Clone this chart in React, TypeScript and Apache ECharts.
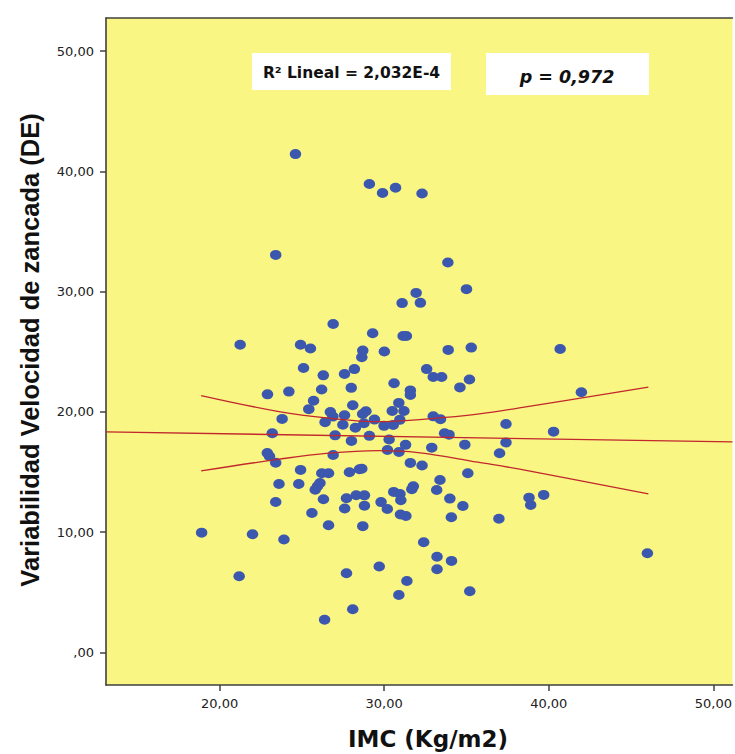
import React, { useEffect, useRef } from "react";
import * as echarts from "echarts";

// IMC (Kg/m2)
const imc = [
  24.61, 29.10, 29.90, 30.69, 32.30, 23.41, 33.87, 35.00, 31.94, 31.09,
  32.20, 26.90, 29.30, 31.15, 31.35, 21.25, 24.92, 25.52, 28.70, 28.64,
  30.01, 33.89, 35.29, 25.10, 28.19, 27.59, 26.30, 32.58, 32.98, 33.49,
  35.18, 34.60, 30.60, 28.00, 26.20, 22.91, 24.21, 31.59, 31.59, 25.71,
  28.09, 30.89, 25.42, 26.73, 28.89, 28.69, 27.59, 26.88, 30.49, 31.20,
  29.41, 23.80, 26.41, 27.49, 28.77, 28.25, 30.95, 30.55, 29.99, 32.98,
  33.42, 33.67, 33.94, 23.20, 27.02, 29.10, 30.30, 28.01, 31.30, 30.20,
  30.90, 32.89, 34.90, 37.40, 37.40, 40.29, 40.69, 41.98, 37.01, 22.90,
  23.03, 23.41, 26.90, 31.59, 32.30, 24.92, 26.21, 26.62, 27.89, 28.50,
  28.64, 35.08, 23.61, 24.81, 26.10, 25.95, 25.81, 33.39, 33.19, 31.77,
  31.68, 30.58, 30.96, 31.01, 26.31, 27.71, 28.30, 28.80, 29.81, 30.19,
  23.41, 27.60, 28.80, 33.99, 34.78, 25.61, 30.99, 31.32, 34.08, 36.97,
  38.80, 38.90, 39.69, 26.62, 28.70, 18.91, 22.00, 23.91, 32.40, 33.21,
  34.09, 33.21, 29.70, 27.71, 21.19, 31.38, 30.89, 35.20, 28.09, 26.38,
  45.99,
];

// Variabilidad Velocidad de zancada (DE)
const zancada = [
  41.43, 38.94, 38.19, 38.63, 38.15, 33.05, 32.41, 30.20, 29.89, 29.04,
  29.06, 27.30, 26.54, 26.31, 26.31, 25.57, 25.57, 25.26, 25.09, 24.54,
  25.01, 25.15, 25.34, 23.65, 23.55, 23.15, 23.03, 23.55, 22.89, 22.89,
  22.68, 22.03, 22.38, 21.99, 21.85, 21.45, 21.68, 21.78, 21.39, 20.92,
  20.55, 20.74, 20.22, 19.99, 20.05, 19.81, 19.72, 19.60, 20.07, 20.07,
  19.35, 19.41, 19.14, 18.93, 19.05, 18.68, 19.33, 18.91, 18.83, 19.62,
  19.38, 18.22, 18.10, 18.22, 18.04, 18.00, 17.70, 17.58, 17.25, 16.83,
  16.66, 17.02, 17.27, 18.99, 17.44, 18.35, 25.23, 21.63, 16.56, 16.58,
  16.31, 15.77, 16.41, 15.75, 15.54, 15.17, 14.89, 14.89, 14.98, 15.22,
  15.27, 14.89, 14.00, 13.99, 14.08, 13.81, 13.52, 14.33, 13.50, 13.81,
  13.56, 13.34, 13.17, 12.65, 12.73, 12.81, 13.06, 13.05, 12.49, 11.92,
  12.50, 11.96, 12.19, 12.78, 12.17, 11.59, 11.46, 11.34, 11.23, 11.11,
  12.86, 12.25, 13.09, 10.57, 10.49, 9.95, 9.82, 9.38, 9.15, 7.95,
  7.60, 6.91, 7.14, 6.58, 6.32, 5.93, 4.77, 5.07, 3.58, 2.71,
  8.24,
];

// Linear fit line (R² Lineal = 2,032E-4)
const fitX = [13.1, 51.16];
const fitY = [18.33, 17.5];

// 95% confidence band of the mean
const bandX = [18.88, 23.61, 26.62, 29.64, 32.66, 35.68, 38.7, 46.05];
const upperY = [21.35, 20.02, 19.47, 19.18, 19.41, 19.8, 20.43, 22.05];
const lowerX = [18.88, 23.61, 26.62, 29.64, 32.06, 35.68, 38.7, 46.05];
const lowerY = [15.08, 16.06, 16.56, 16.77, 16.61, 15.81, 15.11, 13.17];

const xTicks = [20, 30, 40, 50];
const yTicks = [0, 10, 20, 30, 40, 50];

const xTitle = "IMC (Kg/m2)";
const yTitle = "Variabilidad Velocidad de zancada (DE)";
const r2Text = "R² Lineal = 2,032E-4";
const pText = "p = 0,972";

const fmt = (v: number) => (v === 0 ? ",00" : v.toFixed(2).replace(".", ","));

export default function App() {
  const ref = useRef<HTMLDivElement>(null);
  useEffect(() => {
    document.body.style.margin = "0";
    if (!ref.current) return;
    const chart = echarts.init(ref.current, null, { renderer: "svg" });
    const axisColor = "#404040";
    const lineColor = "#c1272d";
    const tickFont = "DejaVu Sans";
    chart.setOption({
      animation: false,
      backgroundColor: "#ffffff",
      grid: {
        left: 106,
        top: 18,
        right: 0,
        bottom: 69,
        show: true,
        borderWidth: 0,
        backgroundColor: "#faf683",
      },
      xAxis: [
        {
          type: "value",
          min: 13.1,
          max: 51.16,
          position: "bottom",
          splitLine: { show: false },
          axisLine: { show: true, onZero: false, lineStyle: { color: axisColor, width: 1.6 } },
          axisTick: {
            show: true,
            length: 6,
            customValues: xTicks,
            lineStyle: { color: axisColor, width: 1.5 },
          },
          axisLabel: {
            customValues: xTicks,
            formatter: fmt,
            margin: 12,
            color: "#222",
            fontFamily: tickFont,
            fontSize: 13,
          },
        },
        {
          type: "value",
          min: 13.1,
          max: 51.16,
          position: "top",
          splitLine: { show: false },
          axisLine: { show: true, onZero: false, lineStyle: { color: axisColor, width: 1.6 } },
          axisTick: { show: false },
          axisLabel: { show: false },
        },
      ],
      yAxis: {
        type: "value",
        min: -2.72,
        max: 52.75,
        splitLine: { show: false },
        axisLine: { show: true, onZero: false, lineStyle: { color: axisColor, width: 1.6 } },
        axisTick: {
          show: true,
          length: 6,
          customValues: yTicks,
          lineStyle: { color: axisColor, width: 1.5 },
        },
        axisLabel: {
          customValues: yTicks,
          formatter: fmt,
          margin: 12,
          color: "#222",
          fontFamily: tickFont,
          fontSize: 13,
        },
      },
      series: [
        {
          type: "scatter",
          xAxisIndex: 0,
          data: imc.map((x, i) => [x, zancada[i]]),
          symbol: "path://M0,5a5,5 0 1,0 10,0a5,5 0 1,0 -10,0z",
          symbolSize: [11.5, 10],
          itemStyle: { color: "#3c57ae", opacity: 1 },
          z: 3,
        },
        {
          type: "line",
          xAxisIndex: 0,
          data: fitX.map((x, i) => [x, fitY[i]]),
          showSymbol: false,
          silent: true,
          lineStyle: { color: lineColor, width: 1.3 },
          z: 4,
        },
        {
          type: "line",
          xAxisIndex: 0,
          data: bandX.map((x, i) => [x, upperY[i]]),
          showSymbol: false,
          smooth: 0.4,
          silent: true,
          lineStyle: { color: lineColor, width: 1.3 },
          z: 4,
        },
        {
          type: "line",
          xAxisIndex: 0,
          data: lowerX.map((x, i) => [x, lowerY[i]]),
          showSymbol: false,
          smooth: 0.4,
          silent: true,
          lineStyle: { color: lineColor, width: 1.3 },
          z: 4,
        },
      ],
      graphic: [
        {
          type: "rect",
          shape: { x: 252, y: 53, width: 199, height: 37 },
          style: { fill: "#ffffff" },
          z: 10,
        },
        {
          type: "text",
          x: 351.5,
          y: 73,
          style: {
            text: r2Text,
            fill: "#111",
            font: "bold 15.5px 'DejaVu Sans'",
            textAlign: "center",
            textVerticalAlign: "middle",
          },
          z: 11,
        },
        {
          type: "rect",
          shape: { x: 486, y: 53, width: 163, height: 42 },
          style: { fill: "#ffffff" },
          z: 10,
        },
        {
          type: "text",
          x: 567,
          y: 77,
          style: {
            text: pText,
            fill: "#111",
            font: "italic bold 17.5px 'DejaVu Sans'",
            textAlign: "center",
            textVerticalAlign: "middle",
          },
          z: 11,
        },
        {
          type: "text",
          x: 428,
          y: 739,
          style: {
            text: xTitle,
            fill: "#111",
            font: "bold 23px 'DejaVu Sans'",
            textAlign: "center",
            textVerticalAlign: "middle",
          },
          z: 11,
        },
        {
          type: "text",
          x: 30,
          y: 350,
          rotation: Math.PI / 2,
          style: {
            text: yTitle,
            fill: "#111",
            font: "bold 25.5px 'Liberation Sans'",
            textAlign: "center",
            textVerticalAlign: "middle",
          },
          z: 11,
        },
      ],
    });
    return () => chart.dispose();
  }, []);
  return <div ref={ref} style={{ width: 735, height: 754 }} />;
}
